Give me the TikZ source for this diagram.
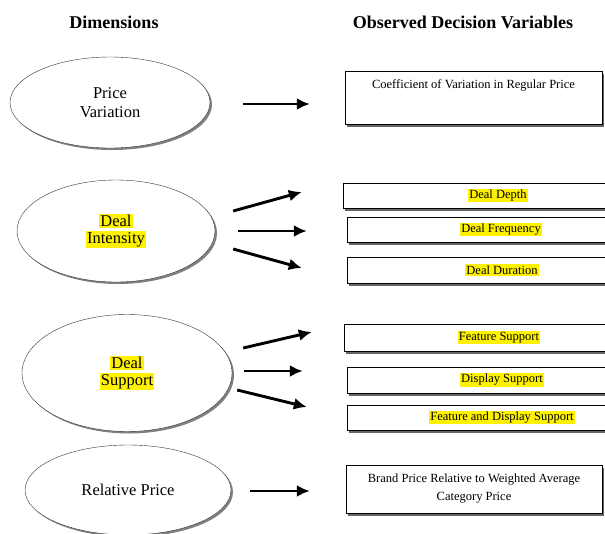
\documentclass[tikz,border=0pt]{standalone}
\usepackage{fontspec}
\setmainfont{Liberation Serif}
\usetikzlibrary{shapes.geometric, shadows, arrows.meta}
\tikzset{>={Latex[length=13pt,width=12pt]}}
\newcommand{\hl}[1]{{\setlength{\fboxsep}{1.3pt}\colorbox{yellow}{#1}}}

\begin{document}
\begin{tikzpicture}[x=1pt,y=-1pt,
  head/.style={font=\fontsize{18}{21}\selectfont\bfseries},
  dim/.style={ellipse, draw=black!80, thin, fill=white, align=center,
    font=\fontsize{16.5}{19}\selectfont,
    drop shadow={shadow xshift=2pt, shadow yshift=-2pt, fill=black!50, opacity=1}},
  dvar/.style={rectangle, draw, fill=white, align=center, inner sep=2pt,
    font=\fontsize{12.5}{18}\selectfont,
    drop shadow={shadow xshift=2pt, shadow yshift=-3pt, fill=black!60, opacity=1}},
  link/.style={->, line width=2.9pt}]
\path[use as bounding box, clip] (0,0) rectangle (605,533);

% headings
\node[head] (dimhead) at (114,22) {Dimensions};
\node[head] (varhead) at (463,22) {Observed Decision Variables};

% dimensions
\node[dim, minimum width=200, minimum height=91] (pv) at (110,102.5) {Price\\Variation};
\node[dim, minimum width=198, minimum height=102] (di) at (116,231) {\hl{Deal}\\[-2pt]\hl{Intensity}};
\node[dim, minimum width=210, minimum height=117] (ds) at (127,373) {\hl{Deal}\\[-2pt]\hl{Support}};
\node[dim, minimum width=206, minimum height=90] (rp) at (128,490) {Relative Price};

% observed decision variables
\node[dvar, minimum width=257, minimum height=53, text depth=26pt] (cv) at (473.5,97.5) {Coefficient of Variation in Regular Price};
\node[dvar, minimum width=310, minimum height=25] (depth) at (498,195.5) {\hl{Deal Depth}};
\node[dvar, minimum width=308, minimum height=25] (freq) at (501,229.5) {\hl{Deal Frequency}};
\node[dvar, minimum width=310, minimum height=26] (dur) at (502,270) {\hl{Deal Duration}};
\node[dvar, minimum width=310, minimum height=27] (feat) at (499,337.5) {\hl{Feature Support}};
\node[dvar, minimum width=310, minimum height=26] (disp) at (502,380) {\hl{Display Support}};
\node[dvar, minimum width=310, minimum height=25] (fd) at (502,417.5) {\hl{Feature and Display Support}};
\node[dvar, minimum width=256, minimum height=48] (brand) at (474,489) {Brand Price Relative to Weighted Average\\Category Price};

% links
\draw[link] ([shift={(33,1.5)}]pv.east) -- ([shift={(-35,6.5)}]cv.west);
\draw[link] ([shift={(18,-20)}]di.east) -- ([shift={(-41,-3.5)}]depth.west);
\draw[link] ([shift={(23,0)}]di.east) -- ([shift={(-40,1.5)}]freq.west);
\draw[link] ([shift={(18,18)}]di.east) -- ([shift={(-45,-2)}]dur.west);
\draw[link] ([shift={(11,-25)}]ds.east) -- ([shift={(-32,-5.5)}]feat.west);
\draw[link] ([shift={(12,-2)}]ds.east) -- ([shift={(-44,-9)}]disp.west);
\draw[link] ([shift={(5,17)}]ds.east) -- ([shift={(-40,-10.5)}]fd.west);
\draw[link] ([shift={(19,1)}]rp.east) -- ([shift={(-36,2)}]brand.west);
\end{tikzpicture}
\end{document}
